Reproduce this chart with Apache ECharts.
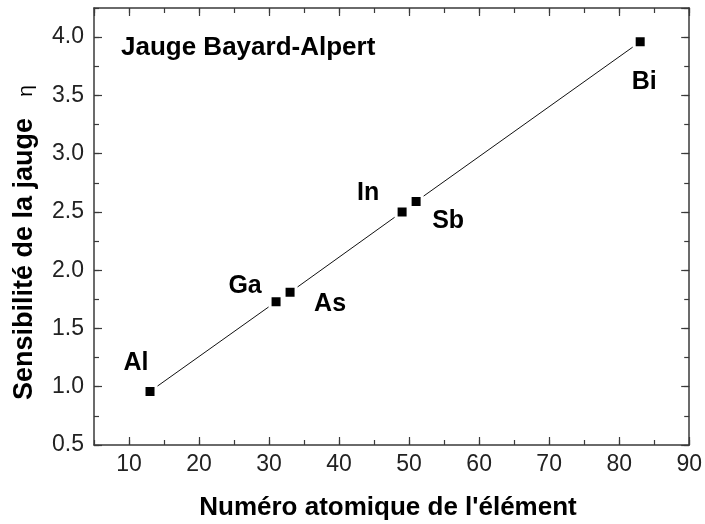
<!DOCTYPE html>
<html>
<head>
<meta charset="utf-8">
<title>Jauge Bayard-Alpert</title>
<script src="https://cdn.jsdelivr.net/npm/echarts@6/dist/echarts.min.js"></script>
<style>
	html, body { margin: 0; padding: 0; background: #fff; }
	#chart { width: 705px; height: 524px; }
</style>
</head>
<body>
<div id="chart"></div>
<script>
var elements = ['Al', 'Ga', 'As', 'In', 'Sb', 'Bi'];
var atomicNumbers = [13, 31, 33, 49, 51, 83];
var sensitivity = [0.96, 1.73, 1.81, 2.50, 2.59, 3.96];

var xMin = 5, xMax = 90;
var yMin = 0.5, yMax = 4.25;

/* decalage des etiquettes par rapport au point (px) */
var labelOffset = {
	Al: [-14, -28],
	Ga: [-31, -16],
	As: [40, 12],
	In: [-34, -19],
	Sb: [32, 20],
	Bi: [4, 40]
};

var font = "'Liberation Sans', Arial, sans-serif";
var axisColor = '#3a3a3a';

function tickAxis(pos, min, max, interval, len, showLine, showLabel) {
	var ax = {
		type: 'value',
		position: pos,
		min: min,
		max: max,
		splitLine: { show: false },
		axisLine: { show: showLine, onZero: false, lineStyle: { color: axisColor, width: 1.5 } },
		axisTick: { show: true, inside: true, length: len, lineStyle: { color: axisColor, width: 1.2 } },
		axisLabel: { show: false }
	};
	if (interval) {
		ax.interval = interval;
	} else {
		ax.splitNumber = 9;
	}
	if (showLabel) {
		ax.axisLabel = {
			show: true,
			showMinLabel: pos !== 'bottom',
			showMaxLabel: pos === 'bottom',
			fontFamily: font,
			fontSize: 23,
			color: '#222',
			margin: pos === 'bottom' ? 8 : 10,
			formatter: function (v) {
				return pos === 'bottom' ? String(v) : v.toFixed(1);
			}
		};
	}
	return ax;
}

var data = [];
for (var i = 0; i < elements.length; i++) {
	data.push({
		name: elements[i],
		value: [atomicNumbers[i], sensitivity[i]],
		label: { offset: labelOffset[elements[i]] }
	});
}

var chart = echarts.init(document.getElementById('chart'), null, { renderer: 'canvas' });
var option = {
	backgroundColor: '#fff',
	animation: false,
	grid: { left: 94, right: 14, top: 8, bottom: 79, containLabel: false },
	xAxis: [
		tickAxis('bottom', xMin, xMax, null, 8, true, true),
		tickAxis('bottom', xMin, xMax, 5, 5, false, false),
		tickAxis('top', xMin, xMax, null, 8, true, false),
		tickAxis('top', xMin, xMax, 5, 5, false, false)
	],
	yAxis: [
		tickAxis('left', yMin, yMax, 0.5, 8, true, true),
		tickAxis('left', yMin, yMax, 0.25, 5, false, false),
		tickAxis('right', yMin, yMax, 0.5, 8, true, false),
		tickAxis('right', yMin, yMax, 0.25, 5, false, false)
	],
	series: [{
		type: 'line',
		xAxisIndex: 0,
		yAxisIndex: 0,
		data: data,
		symbol: 'rect',
		symbolSize: 12,
		lineStyle: { color: '#111', width: 1 },
		itemStyle: { color: '#000', borderColor: '#fff', borderWidth: 3 },
		label: {
			show: true,
			position: 'inside',
			formatter: '{b}',
			fontFamily: font,
			fontWeight: 'bold',
			fontSize: 25,
			color: '#000'
		},
		emphasis: { disabled: true }
	}],
	graphic: [{
		type: 'text',
		left: 121,
		top: 35,
		style: {
			text: 'Jauge Bayard-Alpert',
			font: 'bold 26px ' + font,
			fill: '#000'
		}
	}, {
		type: 'text',
		x: 388,
		y: 508,
		style: {
			text: "Numéro atomique de l'élément",
			font: 'bold 26px ' + font,
			fill: '#000',
			align: 'center',
			verticalAlign: 'middle'
		}
	}, {
		type: 'text',
		x: 25,
		y: 259,
		rotation: Math.PI / 2,
		style: {
			text: 'Sensibilité de la jauge',
			font: 'bold 27px ' + font,
			fill: '#000',
			align: 'center',
			verticalAlign: 'middle'
		}
	}, {
		type: 'text',
		x: 26,
		y: 91,
		rotation: Math.PI / 2,
		style: {
			text: 'η',
			font: '21px ' + font,
			fill: '#000',
			align: 'center',
			verticalAlign: 'middle'
		}
	}]
};
chart.setOption(option);
</script>
</body>
</html>
